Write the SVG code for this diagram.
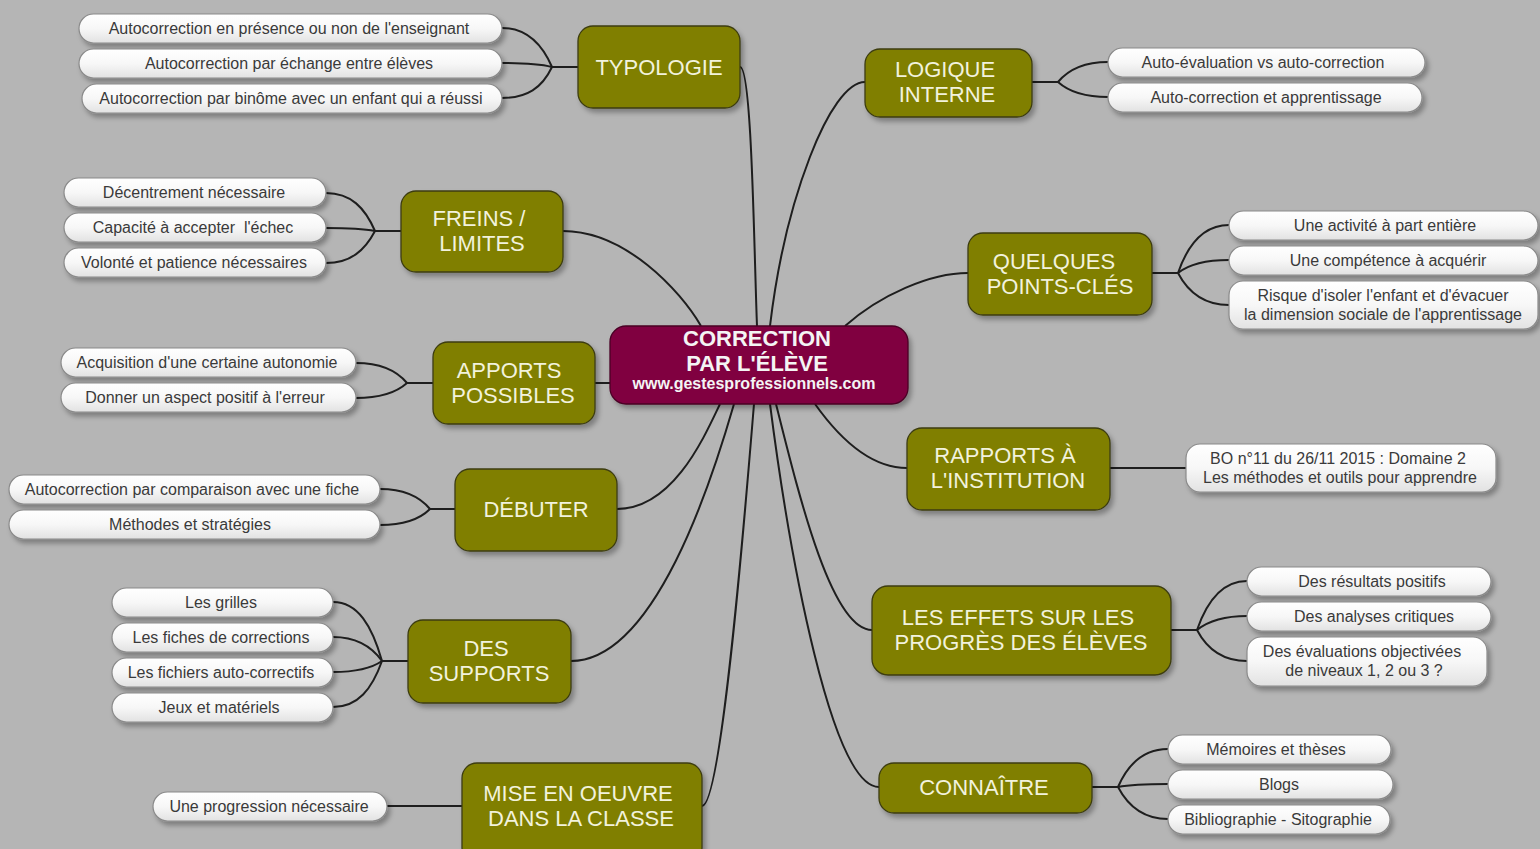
<svg xmlns="http://www.w3.org/2000/svg" width="1540" height="849" viewBox="0 0 1540 849">
<defs>
<filter id="sh" x="-10%" y="-20%" width="130%" height="160%">
<feDropShadow dx="3" dy="4" stdDeviation="2.5" flood-color="#000" flood-opacity="0.3"/>
</filter>
<linearGradient id="lg" x1="0" y1="0" x2="0" y2="1">
<stop offset="0" stop-color="#ffffff"/>
<stop offset="0.5" stop-color="#f7f7f7"/>
<stop offset="1" stop-color="#e2e2e2"/>
</linearGradient>
</defs>
<style>
.main rect{fill:#807f00;stroke:#3c3c10;stroke-width:1.3;filter:url(#sh)}
.main text{font-family:"Liberation Sans",Arial,sans-serif;font-size:22px;fill:#f2f2dc;text-anchor:middle}
.leaf rect{fill:url(#lg);stroke:#8a8a8a;stroke-width:1.2;filter:url(#sh)}
.leaf text{font-family:"Liberation Sans",Arial,sans-serif;font-size:16px;fill:#3a3a3a;text-anchor:middle}
.center rect{fill:#800040;stroke:#4a0025;stroke-width:1.3;filter:url(#sh)}
.center text{font-family:"Liberation Sans",Arial,sans-serif;font-weight:bold;fill:#f4f4f4;text-anchor:middle}
#connectors path{fill:none;stroke:#1e1e1e;stroke-width:2}
</style>
<rect width="1540" height="849" fill="#b5b5b5"/>

<g id="connectors">
<!-- center to main -->
<path d="M740,67 C752,67 754,250 757,326"/>
<path d="M770,326 C785,200 830,82 865,82"/>
<path d="M563,231 C625,231 680,290 701,326"/>
<path d="M845,326 C880,295 930,273 968,273"/>
<path d="M595,383 H610"/>
<path d="M815,404 C842,442 872,468 907,468"/>
<path d="M617,509 C672,509 703,440 720,404"/>
<path d="M776,404 C800,500 832,630 872,630"/>
<path d="M571,661 C655,661 712,480 734,404"/>
<path d="M770,404 C790,560 832,787 879,787"/>
<path d="M702,806 C722,806 746,500 754,404"/>
<!-- TYPOLOGIE -->
<path d="M552,67 H578"/>
<path d="M552,67 C542,44 527,28 502,28"/>
<path d="M552,67 C540,64 525,63 502,63"/>
<path d="M552,67 C542,88 527,98 502,98"/>
<!-- FREINS -->
<path d="M375,231 H401"/>
<path d="M375,231 C365,208 351,193 326,193"/>
<path d="M375,231 C365,229 351,228 326,228"/>
<path d="M375,231 C365,250 351,263 326,263"/>
<!-- APPORTS -->
<path d="M407,383 H433"/>
<path d="M407,383 C397,371 381,363 356,363"/>
<path d="M407,383 C397,392 381,398 356,398"/>
<!-- DEBUTER -->
<path d="M430,509 H455"/>
<path d="M430,509 C420,497 405,489 380,489"/>
<path d="M430,509 C420,519 405,525 380,525"/>
<!-- SUPPORTS -->
<path d="M382,661 H408"/>
<path d="M382,661 C372,626 358,602 333,602"/>
<path d="M382,661 C372,647 358,637 333,637"/>
<path d="M382,661 C372,668 358,672 333,672"/>
<path d="M382,661 C372,689 358,707 333,707"/>
<!-- MISE EN OEUVRE -->
<path d="M387,806 H462"/>
<!-- LOGIQUE -->
<path d="M1032,82 H1058"/>
<path d="M1058,82 C1068,70 1083,62 1108,62"/>
<path d="M1058,82 C1068,91 1083,97 1108,97"/>
<!-- QUELQUES -->
<path d="M1152,273 H1178"/>
<path d="M1178,273 C1188,244 1204,225 1229,225"/>
<path d="M1178,273 C1188,265 1204,260 1229,260"/>
<path d="M1178,273 C1188,292 1204,305 1229,305"/>
<!-- RAPPORTS -->
<path d="M1110,468 H1186"/>
<!-- EFFETS -->
<path d="M1171,630 H1197"/>
<path d="M1197,630 C1207,601 1222,581 1247,581"/>
<path d="M1197,630 C1207,622 1222,616 1247,616"/>
<path d="M1197,630 C1207,649 1222,661 1247,661"/>
<!-- CONNAITRE -->
<path d="M1092,787 H1118"/>
<path d="M1118,787 C1128,764 1143,749 1168,749"/>
<path d="M1118,787 C1128,785 1143,784 1168,784"/>
<path d="M1118,787 C1128,806 1143,819 1168,819"/>
</g>

<g id="center" class="center">
<rect x="610" y="326" width="298" height="78" rx="16"/>
<text x="757" y="346" font-size="22">CORRECTION</text>
<text x="757" y="371" font-size="22">PAR L'ÉLÈVE</text>
<text x="754" y="389" font-size="16">www.gestesprofessionnels.com</text>
</g>

<g id="n-typologie" class="main">
<rect x="578" y="26" width="162" height="82" rx="15"/>
<text x="659" y="75">TYPOLOGIE</text>
</g>
<g id="n-logique" class="main">
<rect x="865" y="49" width="167" height="68" rx="15"/>
<text x="945" y="77">LOGIQUE</text>
<text x="947" y="102">INTERNE</text>
</g>
<g id="n-freins" class="main">
<rect x="401" y="191" width="162" height="81" rx="15"/>
<text x="479" y="226">FREINS /</text>
<text x="482" y="251">LIMITES</text>
</g>
<g id="n-quelques" class="main">
<rect x="968" y="233" width="184" height="82" rx="15"/>
<text x="1054" y="269">QUELQUES</text>
<text x="1060" y="294">POINTS-CLÉS</text>
</g>
<g id="n-apports" class="main">
<rect x="433" y="342" width="162" height="82" rx="15"/>
<text x="509" y="378">APPORTS</text>
<text x="513" y="403">POSSIBLES</text>
</g>
<g id="n-rapports" class="main">
<rect x="907" y="428" width="203" height="82" rx="15"/>
<text x="1005" y="463">RAPPORTS À</text>
<text x="1008" y="488">L'INSTITUTION</text>
</g>
<g id="n-debuter" class="main">
<rect x="455" y="469" width="162" height="82" rx="15"/>
<text x="536" y="517">DÉBUTER</text>
</g>
<g id="n-effets" class="main">
<rect x="872" y="586" width="299" height="89" rx="16"/>
<text x="1018" y="625">LES EFFETS SUR LES</text>
<text x="1021" y="650">PROGRÈS DES ÉLÈVES</text>
</g>
<g id="n-supports" class="main">
<rect x="408" y="620" width="163" height="83" rx="15"/>
<text x="486" y="656">DES</text>
<text x="489" y="681">SUPPORTS</text>
</g>
<g id="n-connaitre" class="main">
<rect x="879" y="763" width="213" height="50" rx="15"/>
<text x="984" y="795">CONNAÎTRE</text>
</g>
<g id="n-mise" class="main">
<rect x="462" y="763" width="240" height="100" rx="15"/>
<text x="578" y="801">MISE EN OEUVRE</text>
<text x="581" y="826">DANS LA CLASSE</text>
</g>

<!-- leaves: TYPOLOGIE -->
<g id="l-typ1" class="leaf"><rect x="79" y="14" width="423" height="29" rx="14.5"/><text x="289" y="34">Autocorrection en présence ou non de l'enseignant</text></g>
<g id="l-typ2" class="leaf"><rect x="79" y="49" width="423" height="29" rx="14.5"/><text x="289" y="69">Autocorrection par échange entre élèves</text></g>
<g id="l-typ3" class="leaf"><rect x="82" y="84" width="420" height="29" rx="14.5"/><text x="291" y="104">Autocorrection par binôme avec un enfant qui a réussi</text></g>
<!-- FREINS -->
<g id="l-fr1" class="leaf"><rect x="64" y="178" width="262" height="29" rx="14.5"/><text x="194" y="198">Décentrement nécessaire</text></g>
<g id="l-fr2" class="leaf"><rect x="64" y="213" width="262" height="29" rx="14.5"/><text x="193" y="233" xml:space="preserve">Capacité à accepter  l'échec</text></g>
<g id="l-fr3" class="leaf"><rect x="64" y="248" width="262" height="29" rx="14.5"/><text x="194" y="268">Volonté et patience nécessaires</text></g>
<!-- APPORTS -->
<g id="l-ap1" class="leaf"><rect x="61" y="348" width="295" height="29" rx="14.5"/><text x="207" y="368">Acquisition d'une certaine autonomie</text></g>
<g id="l-ap2" class="leaf"><rect x="61" y="383" width="295" height="29" rx="14.5"/><text x="205" y="403">Donner un aspect positif à l'erreur</text></g>
<!-- DEBUTER -->
<g id="l-de1" class="leaf"><rect x="9" y="475" width="371" height="29" rx="14.5"/><text x="192" y="495">Autocorrection par comparaison avec une fiche</text></g>
<g id="l-de2" class="leaf"><rect x="9" y="510" width="371" height="29" rx="14.5"/><text x="190" y="530">Méthodes et stratégies</text></g>
<!-- SUPPORTS -->
<g id="l-su1" class="leaf"><rect x="112" y="588" width="221" height="29" rx="14.5"/><text x="221" y="608">Les grilles</text></g>
<g id="l-su2" class="leaf"><rect x="112" y="623" width="221" height="29" rx="14.5"/><text x="221" y="643">Les fiches de corrections</text></g>
<g id="l-su3" class="leaf"><rect x="112" y="658" width="221" height="29" rx="14.5"/><text x="221" y="678">Les fichiers auto-correctifs</text></g>
<g id="l-su4" class="leaf"><rect x="112" y="693" width="221" height="29" rx="14.5"/><text x="219" y="713">Jeux et matériels</text></g>
<!-- MISE -->
<g id="l-mi1" class="leaf"><rect x="153" y="792" width="234" height="29" rx="14.5"/><text x="269" y="812">Une progression nécessaire</text></g>
<!-- LOGIQUE -->
<g id="l-lo1" class="leaf"><rect x="1108" y="48" width="317" height="29" rx="14.5"/><text x="1263" y="68">Auto-évaluation vs auto-correction</text></g>
<g id="l-lo2" class="leaf"><rect x="1108" y="83" width="314" height="29" rx="14.5"/><text x="1266" y="103">Auto-correction et apprentissage</text></g>
<!-- QUELQUES -->
<g id="l-qu1" class="leaf"><rect x="1229" y="211" width="309" height="29" rx="14.5"/><text x="1385" y="231">Une activité à part entière</text></g>
<g id="l-qu2" class="leaf"><rect x="1229" y="246" width="309" height="29" rx="14.5"/><text x="1388" y="266">Une compétence à acquérir</text></g>
<g id="l-qu3" class="leaf"><rect x="1229" y="281" width="309" height="48" rx="14"/><text x="1383" y="301">Risque d'isoler l'enfant et d'évacuer</text><text x="1383" y="320">la dimension sociale de l'apprentissage</text></g>
<!-- RAPPORTS -->
<g id="l-ra1" class="leaf"><rect x="1186" y="444" width="310" height="48" rx="14"/><text x="1338" y="464">BO n°11 du 26/11 2015 : Domaine 2</text><text x="1340" y="483">Les méthodes et outils pour apprendre</text></g>
<!-- EFFETS -->
<g id="l-ef1" class="leaf"><rect x="1247" y="567" width="244" height="29" rx="14.5"/><text x="1372" y="587">Des résultats positifs</text></g>
<g id="l-ef2" class="leaf"><rect x="1247" y="602" width="244" height="29" rx="14.5"/><text x="1374" y="622">Des analyses critiques</text></g>
<g id="l-ef3" class="leaf"><rect x="1247" y="637" width="240" height="49" rx="14"/><text x="1362" y="657">Des évaluations objectivées</text><text x="1364" y="676">de niveaux 1, 2 ou 3 ?</text></g>
<!-- CONNAITRE -->
<g id="l-co1" class="leaf"><rect x="1168" y="735" width="223" height="29" rx="14.5"/><text x="1276" y="755">Mémoires et thèses</text></g>
<g id="l-co2" class="leaf"><rect x="1168" y="770" width="225" height="29" rx="14.5"/><text x="1279" y="790">Blogs</text></g>
<g id="l-co3" class="leaf"><rect x="1168" y="805" width="222" height="29" rx="14.5"/><text x="1278" y="825">Bibliographie - Sitographie</text></g>
</svg>
